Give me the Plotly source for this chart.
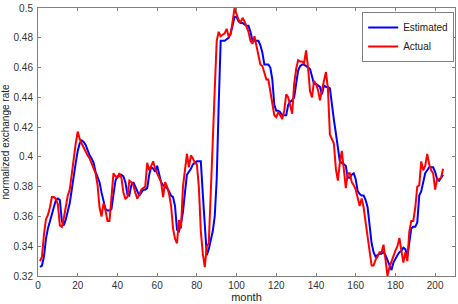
import plotly.graph_objects as go

months = list(range(1, 205))

actual = [
    0.330, 0.333, 0.348, 0.358, 0.361, 0.366, 0.373, 0.373, 0.372, 0.368,
    0.354, 0.353, 0.359, 0.366, 0.374, 0.378, 0.389, 0.400, 0.409, 0.417,
    0.412, 0.409, 0.406, 0.403, 0.401, 0.399, 0.396, 0.392, 0.389, 0.381,
    0.366, 0.360, 0.369, 0.364, 0.357, 0.357, 0.374, 0.389, 0.387, 0.386,
    0.389, 0.386, 0.376, 0.372, 0.373, 0.384, 0.383, 0.381, 0.376, 0.372,
    0.3745, 0.378, 0.379, 0.380, 0.396, 0.391, 0.394, 0.397, 0.392, 0.389,
    0.387, 0.383, 0.373, 0.383, 0.380, 0.375, 0.3675, 0.352, 0.345, 0.342,
    0.3576, 0.352, 0.380, 0.3905, 0.402, 0.393, 0.401, 0.399, 0.396, 0.395,
    0.380, 0.350, 0.335, 0.326, 0.340, 0.342, 0.372, 0.410, 0.445, 0.478,
    0.484, 0.481, 0.482, 0.483, 0.486, 0.481, 0.482, 0.492, 0.500, 0.496,
    0.492, 0.490, 0.4934, 0.491, 0.488, 0.484, 0.478, 0.476, 0.481, 0.475,
    0.468, 0.462, 0.461, 0.456, 0.452, 0.452, 0.444, 0.436, 0.428, 0.4266,
    0.430, 0.428, 0.4255, 0.431, 0.442, 0.440, 0.434, 0.429, 0.449, 0.459,
    0.465, 0.464, 0.464, 0.463, 0.4715, 0.460, 0.444, 0.440, 0.451, 0.449,
    0.445, 0.438, 0.445, 0.452, 0.457, 0.446, 0.415, 0.412, 0.409, 0.392,
    0.384, 0.396, 0.404, 0.392, 0.379, 0.389, 0.389, 0.383, 0.381, 0.378,
    0.373, 0.367, 0.372, 0.366, 0.356, 0.346, 0.336, 0.327, 0.327, 0.331,
    0.333, 0.336, 0.336, 0.341, 0.331, 0.320, 0.326, 0.330, 0.333, 0.337,
    0.340, 0.3456, 0.337, 0.329, 0.336, 0.330, 0.350, 0.357, 0.357, 0.366,
    0.380, 0.381, 0.397, 0.391, 0.394, 0.402, 0.395, 0.391, 0.389, 0.378,
    0.385, 0.385, 0.386, 0.392,
]

estimated = [
    0.326, 0.327, 0.333, 0.345, 0.352, 0.357, 0.362, 0.366, 0.371, 0.372,
    0.371, 0.357, 0.354, 0.358, 0.364, 0.369, 0.378, 0.388, 0.396, 0.404,
    0.409, 0.411, 0.410, 0.408, 0.404, 0.401, 0.399, 0.396, 0.390, 0.387,
    0.383, 0.376, 0.371, 0.365, 0.364, 0.364, 0.365, 0.374, 0.384, 0.387,
    0.387, 0.388, 0.387, 0.383, 0.375, 0.374, 0.381, 0.383, 0.380, 0.376,
    0.374, 0.376, 0.378, 0.378, 0.379, 0.388, 0.393, 0.392, 0.390, 0.394,
    0.388, 0.383, 0.381, 0.380, 0.379, 0.377, 0.374, 0.373, 0.367, 0.351,
    0.350, 0.355, 0.363, 0.376, 0.388, 0.390, 0.392, 0.395, 0.396, 0.397,
    0.397, 0.397, 0.375, 0.352, 0.334, 0.338, 0.345, 0.350, 0.360, 0.385,
    0.435, 0.478, 0.478, 0.478, 0.479, 0.480, 0.483, 0.488, 0.494, 0.494,
    0.491, 0.490, 0.490, 0.489, 0.488, 0.488, 0.484, 0.478, 0.478, 0.478,
    0.478, 0.475, 0.470, 0.462, 0.462, 0.462, 0.460, 0.452, 0.435, 0.431,
    0.431, 0.430, 0.428, 0.428, 0.428, 0.435, 0.437, 0.438, 0.440, 0.449,
    0.458, 0.461, 0.462, 0.462, 0.461, 0.460, 0.459, 0.454, 0.449, 0.449,
    0.448, 0.447, 0.442, 0.448, 0.447, 0.447, 0.446, 0.434, 0.425, 0.416,
    0.405, 0.397, 0.396, 0.395, 0.394, 0.386, 0.386, 0.388, 0.389, 0.385,
    0.377, 0.375, 0.374, 0.374, 0.371, 0.366, 0.354, 0.342, 0.336, 0.333,
    0.334, 0.335, 0.335, 0.336, 0.334, 0.331, 0.327, 0.324, 0.329, 0.332,
    0.334, 0.336, 0.337, 0.339, 0.338, 0.333, 0.344, 0.352, 0.353, 0.353,
    0.356, 0.374, 0.377, 0.384, 0.389, 0.391, 0.393, 0.393, 0.393, 0.390,
    0.385, 0.384, 0.386, 0.388,
]

x_ticks = [0, 20, 40, 60, 80, 100, 120, 140, 160, 180, 200]
y_ticks = [0.32, 0.34, 0.36, 0.38, 0.40, 0.42, 0.44, 0.46, 0.48, 0.50]
y_tick_labels = ["0.32", "0.34", "0.36", "0.38", "0.4", "0.42", "0.44", "0.46", "0.48", "0.5"]

fig = go.Figure()
fig.add_trace(go.Scatter(x=months, y=estimated, mode="lines", name="Estimated",
                         line=dict(color="#0000ff", width=2)))
fig.add_trace(go.Scatter(x=months, y=actual, mode="lines", name="Actual",
                         line=dict(color="#ff0000", width=2)))

axis_common = dict(
    showgrid=False, zeroline=False, showline=True, linecolor="#808080", linewidth=1,
    mirror="ticks", ticks="inside", ticklen=3, tickcolor="#808080",
    ticklabeloverflow="allow",
    tickfont=dict(family="Liberation Sans, Arial", size=10, color="#333333"),
)

fig.update_layout(
    width=458, height=304,
    margin=dict(l=38, r=2, t=5, b=25),
    paper_bgcolor="white", plot_bgcolor="white",
    font=dict(family="Liberation Sans, Arial", color="#222222"),
    xaxis=dict(range=[0, 210], tickvals=x_ticks,
               title=dict(text="month", font=dict(size=11), standoff=3), **axis_common),
    yaxis=dict(range=[0.32, 0.5], tickvals=y_ticks, ticktext=y_tick_labels,
               ticklabelstandoff=2,
               title=dict(text="normalized exchange rate", font=dict(size=10), standoff=2),
               **axis_common),
    legend=dict(x=0.998, y=0.985, xanchor="right", yanchor="top",
                bgcolor="white", bordercolor="#808080", borderwidth=1,
                font=dict(family="Liberation Sans, Arial", size=10, color="#222222"),
                itemwidth=30, tracegroupgap=0),
    showlegend=True,
)

fig.write_html("out.html", config={"displayModeBar": False},
               post_script="document.body.style.margin='0px';document.body.style.padding='0px';")
